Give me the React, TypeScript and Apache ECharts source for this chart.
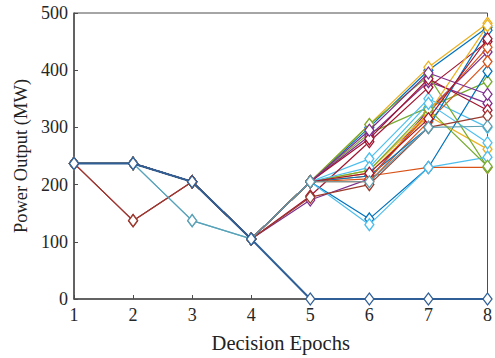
import React, { useEffect, useRef } from "react";
import * as echarts from "echarts";

const epochs = ["1", "2", "3", "4", "5", "6", "7", "8"];
const yTicks = [0, 100, 200, 300, 400, 500];

const matlabColors = ["#0072BD", "#D95319", "#EDB120", "#7E2F8E", "#77AC30", "#4DBEEE", "#A2142F"];

const s01 = [237, 237, 205, 105, 205, 300, 400, 475];
const s02 = [237, 237, 205, 105, 205, 215, 230, 230];
const s03 = [237, 237, 205, 105, 205, 305, 405, 482];
const s04 = [237, 237, 205, 105, 173, 210, 330, 432];
const s05 = [237, 237, 205, 105, 205, 290, 335, 380];
const s06 = [237, 237, 205, 105, 205, 245, 350, 300];
const s07 = [237, 137, 205, 105, 180, 275, 370, 450];
const s08 = [237, 237, 205, 105, 205, 140, 230, 398];
const s09 = [237, 237, 205, 105, 205, 205, 310, 415];
const s10 = [237, 237, 205, 105, 205, 220, 320, 262];
const s11 = [237, 237, 205, 105, 205, 285, 380, 342];
const s12 = [237, 237, 205, 105, 205, 305, 390, 230];
const s13 = [237, 237, 205, 105, 205, 130, 230, 248];
const s14 = [237, 237, 205, 105, 205, 280, 385, 330];
const s15 = [237, 237, 205, 105, 205, 215, 300, 470];
const s16 = [237, 237, 205, 105, 205, 210, 325, 440];
const s17 = [237, 237, 205, 105, 205, 225, 325, 478];
const s18 = [237, 237, 205, 105, 205, 295, 395, 358];
const s19 = [237, 237, 205, 105, 205, 225, 332, 232];
const s20 = [237, 237, 137, 105, 205, 230, 342, 273];
const s21 = [237, 237, 205, 105, 205, 220, 315, 455];
const s22 = [237, 137, 205, 105, 178, 200, 300, 320];
const s23 = [237, 237, 137, 105, 205, 205, 300, 302];
const s24 = [237, 237, 205, 105, 0, 0, 0, 0];

const allSeries = [s01, s02, s03, s04, s05, s06, s07, s08, s09, s10, s11, s12, s13, s14, s15, s16, s17, s18, s19, s20, s21, s22, s23, s24];
const seriesColors = [
  ...allSeries.slice(0, 21).map((_, i) => matlabColors[i % 7]),
  "#9A3A2C",
  "#5E9FB0",
  "#2F5F96",
];

export default function App() {
  const ref = useRef<HTMLDivElement>(null);
  useEffect(() => {
    if (!ref.current) return;
    const chart = echarts.init(ref.current, null, { renderer: "svg" });
    const font = "'Liberation Serif', 'Times New Roman', serif";
    chart.setOption({
      animation: false,
      backgroundColor: "#ffffff",
      grid: {
        left: 74,
        right: 3,
        top: 13,
        bottom: 50,
        show: true,
        borderColor: "#4d4d4d",
        borderWidth: 1,
        backgroundColor: "transparent",
      },
      xAxis: {
        type: "category",
        data: epochs,
        boundaryGap: false,
        name: "Decision Epochs",
        nameLocation: "middle",
        nameGap: 33,
        nameTextStyle: { fontFamily: font, fontSize: 20.5, color: "#222" },
        axisLine: { lineStyle: { color: "#4d4d4d", width: 1.5 } },
        axisTick: { inside: true, length: 4, lineStyle: { color: "#4d4d4d" } },
        axisLabel: { fontFamily: font, fontSize: 18, color: "#262626", margin: 7 },
        splitLine: { show: false },
      },
      yAxis: {
        type: "value",
        min: 0,
        max: 500,
        interval: 100,
        name: "Power Output (MW)",
        nameLocation: "middle",
        nameGap: 44,
        nameTextStyle: { fontFamily: font, fontSize: 18.5, color: "#222" },
        axisLine: { show: true, lineStyle: { color: "#4d4d4d", width: 1.5 } },
        axisTick: { show: true, inside: true, length: 4, lineStyle: { color: "#4d4d4d" } },
        axisLabel: {
          fontFamily: font,
          fontSize: 18,
          color: "#262626",
          margin: 6,
          formatter: (v: number) => (yTicks.includes(v) ? String(v) : ""),
        },
        splitLine: { show: false },
      },
      series: allSeries.map((d, i) => ({
        type: "line",
        data: d,
        symbol: "diamond",
        symbolSize: [9, 12],
        showSymbol: true,
        itemStyle: { color: "#ffffff", borderColor: seriesColors[i], borderWidth: 1.3 },
        lineStyle: { color: seriesColors[i], width: i === allSeries.length - 1 ? 2 : 1.2 },
        z: 2 + i,
      })),
    });
    return () => chart.dispose();
  }, []);
  return (
    <div
      ref={ref}
      style={{ position: "fixed", left: 0, top: 0, width: 495, height: 358, background: "#fff" }}
    />
  );
}
